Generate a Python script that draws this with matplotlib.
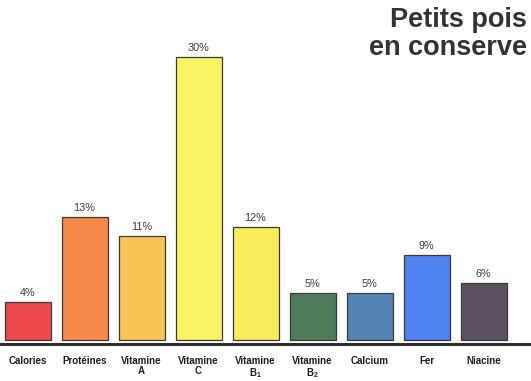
import matplotlib
matplotlib.use("Agg")
import matplotlib.pyplot as plt

plt.rcParams["mathtext.fontset"] = "custom"
plt.rcParams["mathtext.rm"] = "Liberation Sans"
plt.rcParams["mathtext.bf"] = "Liberation Sans:bold"

categories = ["Calories", "Protéines", "Vitamine\nA", "Vitamine\nC", "Vitamine\n$\\mathbf{B_1}$",
              "Vitamine\n$\\mathbf{B_2}$", "Calcium", "Fer", "Niacine"]
values = [4, 13, 11, 30, 12, 5, 5, 9, 6]
value_labels = ["4%", "13%", "11%", "30%", "12%", "5%", "5%", "9%", "6%"]
colors = ["#ec4a4f", "#f4894a", "#f8c556", "#f8f464", "#f8ec5c",
          "#4e7c5a", "#5584b4", "#4f84f0", "#5a505e"]
title_lines = ["Petits pois", "en conserve"]

W, H = 531, 381
fig = plt.figure(figsize=(W / 100, H / 100), dpi=100)
ax = fig.add_axes([0, 0, 1, 1])
ax.set_axis_off()

pitch = 57.0
ppu = 9.43  # pixels per percent
x_left = -27.5 / pitch
x_right = (W - 27.5) / pitch
y_bottom = -(H - 340) / ppu
y_top = 340 / ppu
ax.set_xlim(x_left, x_right)
ax.set_ylim(y_bottom, y_top)

xs = list(range(len(values)))
ax.bar(xs, values, width=46 / pitch, color=colors, edgecolor="#3a3a3a", linewidth=0.9)

# baseline
ax.axhline(-4.3 / ppu, color="#2e2e2e", linewidth=2.2)

fam = ["Liberation Sans", "DejaVu Sans"]
for x, v, lab in zip(xs, values, value_labels):
    ax.annotate(lab, (x, v), xytext=(0, 3), textcoords="offset points",
                ha="center", va="bottom", fontsize=7.8, color="#3a3a3a", family=fam)

for x, c in zip(xs, categories):
    ax.text(x, -(356 - 340) / ppu, c, ha="center", va="top", fontsize=7,
            fontweight="bold", color="#1e1e1e", family=fam, linespacing=1.05)

fig.text(527 / W, 1 - 27 / H, title_lines[0], ha="right", va="baseline",
         fontsize=19.5, fontweight="bold", color="#333333", family=fam)
fig.text(527 / W, 1 - 55 / H, title_lines[1], ha="right", va="baseline",
         fontsize=19.5, fontweight="bold", color="#333333", family=fam)

fig.savefig("out.png", dpi=100)
